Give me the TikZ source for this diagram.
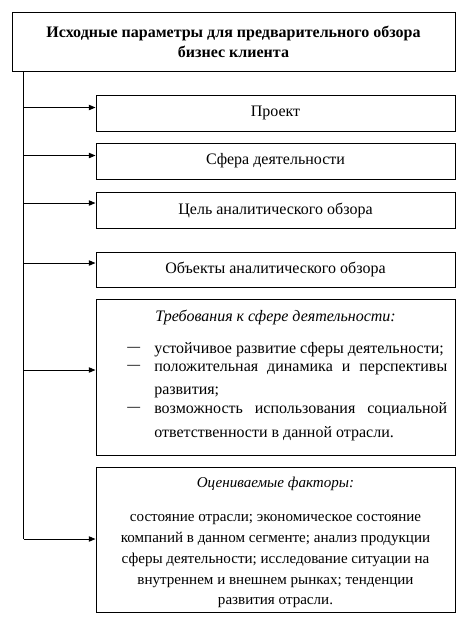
\documentclass[tikz,border=0pt]{standalone}
\usepackage{fontspec}
\setmainfont{Liberation Serif}
\usetikzlibrary{arrows.meta}
\begin{document}
\begin{tikzpicture}[x=0.75pt,y=-0.75pt,
  box/.style={draw,line width=0.75pt,minimum width=269.25pt,inner sep=0pt},
  lbl/.style={font=\fontsize{12}{15}\selectfont,inner sep=0pt},
  slbl/.style={font=\fontsize{11.3}{14}\selectfont,inner sep=0pt},
  arr/.style={line width=0.75pt,-{Triangle[length=5pt,width=4pt]}}]
\useasboundingbox (0,0) rectangle (474,619);
\node[draw,line width=0.75pt,minimum width=332.25pt,minimum height=44.25pt,inner sep=0pt,align=center,font=\bfseries\fontsize{12}{15}\selectfont] (top) at (233.5,41.5) {Исходные параметры для предварительного обзора\\бизнес клиента};
\node[box,minimum height=27pt,lbl] (b1) at (275.5,113) {Проект};
\node[box,minimum height=27pt,lbl] (b2) at (275.5,161) {Сфера деятельности};
\node[box,minimum height=27pt,lbl] (b3) at (275.5,210) {Цель аналитического обзора};
\node[box,minimum height=26.25pt,lbl] (b4) at (275.5,269.5) {Объекты аналитического обзора};
\node[box,minimum height=117pt] (b5) at (275.5,377) {};
\node[box,minimum height=108.75pt] (b6) at (275.5,539.5) {};
% requirements
\node[lbl,anchor=base] (b5t) at (275.5,321) {\itshape Требования к сфере деятельности:};
\node[lbl,anchor=base west] (d1) at (127,353) {\raisebox{1.5pt}{\scalebox{0.8}[1]{—}}};
\node[lbl,anchor=base west] (d2) at (127,371) {\raisebox{1.5pt}{\scalebox{0.8}[1]{—}}};
\node[lbl,anchor=base west] (d3) at (127,413) {\raisebox{1.5pt}{\scalebox{0.8}[1]{—}}};
\node[lbl,anchor=base west] (l1) at (154,353) {устойчивое развитие сферы деятельности;};
\node[lbl,anchor=base west] (l2) at (154,371) {\makebox[219.75pt][s]{положительная динамика и перспективы}};
\node[lbl,anchor=base west] (l3) at (154,394) {развития;};
\node[lbl,anchor=base west] (l4) at (154,413) {\makebox[219.75pt][s]{возможность использования социальной}};
\node[lbl,anchor=base west] (l5) at (154,437) {ответственности в данной отрасли.};
% factors
\node[slbl,anchor=base] (b6t) at (275.5,487) {\itshape Оцениваемые факторы:};
\node[slbl,anchor=base] (f1) at (275.5,521) {состояние отрасли; экономическое состояние};
\node[slbl,anchor=base] (f2) at (275.5,542) {компаний в данном сегменте; анализ продукции};
\node[slbl,anchor=base] (f3) at (275.5,563) {сферы деятельности; исследование ситуации на};
\node[slbl,anchor=base] (f4) at (275.5,584) {внутреннем и внешнем рынках; тенденции};
\node[slbl,anchor=base] (f5) at (275.5,604) {развития отрасли.};
% connectors
\coordinate (j1) at (23.5,107.5);
\coordinate (j2) at (23.5,155.5);
\coordinate (j3) at (23.5,203);
\coordinate (j4) at (23.5,263);
\coordinate (j5) at (23.5,370);
\coordinate (j6) at (23.5,539);
\draw[line width=0.75pt] (top.south -| j1) -- (j6);
\draw[arr] (j1) -- (j1 -| b1.west);
\draw[arr] (j2) -- (j2 -| b2.west);
\draw[arr] (j3) -- (j3 -| b3.west);
\draw[arr] (j4) -- (j4 -| b4.west);
\draw[arr] (j5) -- (j5 -| b5.west);
\draw[arr] (j6) -- (j6 -| b6.west);
\end{tikzpicture}
\end{document}
